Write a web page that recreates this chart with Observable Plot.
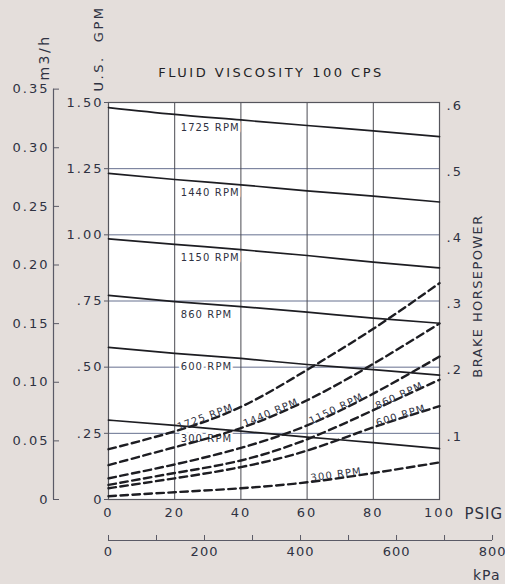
<!DOCTYPE html>
<html>
<head>
<meta charset="utf-8">
<script src="https://cdn.jsdelivr.net/npm/d3@7"></script>
<script src="https://cdn.jsdelivr.net/npm/@observablehq/plot@0.6"></script>
<style>
  html, body { margin: 0; padding: 0; background: #e4dedb; }
  #chart svg { display: block; }
  svg text { letter-spacing: 2px; }
  g[aria-description="rpm-solid"] text, g[aria-description="rpm-dashed"] text { letter-spacing: 1.1px; }
  g[aria-description="big"] text { letter-spacing: 2.5px; }
  g[aria-description="tight"] text { letter-spacing: 1px; }
  g[aria-description="side"] text { letter-spacing: 1.4px; }
</style>
</head>
<body>
<div id="chart"></div>
<script>
// ---- data ----
const psi = [0, 20, 40, 60, 80, 100];
const rpmSpeeds = [1725, 1440, 1150, 860, 600, 300];

// capacity (U.S. GPM) — solid lines
const gpm1725 = [1.481, 1.455, 1.434, 1.413, 1.393, 1.371];
const gpm1440 = [1.232, 1.209, 1.189, 1.166, 1.146, 1.124];
const gpm1150 = [0.985, 0.964, 0.944, 0.922, 0.897, 0.875];
const gpm860  = [0.771, 0.748, 0.729, 0.708, 0.685, 0.666];
const gpm600  = [0.575, 0.552, 0.533, 0.510, 0.491, 0.470];
const gpm300  = [0.300, 0.280, 0.258, 0.236, 0.215, 0.192];

// brake horsepower — dashed lines
const bhp1725 = [0.076, 0.103, 0.140, 0.196, 0.258, 0.327];
const bhp1440 = [0.052, 0.079, 0.108, 0.150, 0.205, 0.266];
const bhp1150 = [0.032, 0.053, 0.078, 0.112, 0.160, 0.216];
const bhp860  = [0.022, 0.040, 0.059, 0.091, 0.135, 0.181];
const bhp600  = [0.017, 0.032, 0.049, 0.074, 0.109, 0.141];
const bhp300  = [0.005, 0.011, 0.017, 0.026, 0.040, 0.056];

// where each curve carries its label (PSIG)
const gpmLabelAt = [20, 20, 20, 20, 20, 20];
const bhpLabelAt = [20, 40, 60, 80, 80, 60];

// ticks
const gpmTicks = [0, 0.25, 0.5, 0.75, 1.0, 1.25, 1.5];
const bhpTicks = [0.1, 0.2, 0.3, 0.4, 0.5, 0.6];
const m3hTicks = [0, 0.05, 0.10, 0.15, 0.20, 0.25, 0.30, 0.35];
const psiTicks = [0, 20, 40, 60, 80, 100];
const kpaTicks = [0, 100, 200, 300, 400, 500, 600, 700, 800];
const kpaLabels = [0, 200, 400, 600, 800];

// unit relations
const BHP_PER_GPM = 0.4;   // .6 BHP sits on 1.50 GPM
const GPM_PER_M3H = 4.43;
const KPA_PER_PSI = 6.895;

const gpmSeries = [gpm1725, gpm1440, gpm1150, gpm860, gpm600, gpm300];
const bhpSeries = [bhp1725, bhp1440, bhp1150, bhp860, bhp600, bhp300];

const flowRows = rpmSpeeds.flatMap((rpm, i) => psi.map((p, j) => ({rpm, psi: p, gpm: gpmSeries[i][j]})));
const bhpRows = rpmSpeeds.flatMap((rpm, i) => psi.map((p, j) => ({rpm, psi: p, bhp: bhpSeries[i][j]})));

// ---- layout ----
const W = 505, H = 584, ML = 108, MR = 66, MT = 102, MB = 85;
const pxPerPsi = (W - ML - MR) / 100;
const pxPerGpm = (H - MT - MB) / 1.5;

const flowLabels = rpmSpeeds.map((rpm, i) => {
  const j = psi.indexOf(gpmLabelAt[i]);
  return {rpm, psi: psi[j], gpm: gpmSeries[i][j]};
});
const bhpLabels = rpmSpeeds.map((rpm, i) => {
  const j = psi.indexOf(bhpLabelAt[i]);
  const s = bhpSeries[i];
  const dyPx = (s[j + 1] - s[j]) / BHP_PER_GPM * pxPerGpm;
  const dxPx = (psi[j + 1] - psi[j]) * pxPerPsi;
  return {rpm, psi: psi[j], bhp: s[j], angle: -Math.atan2(dyPx, dxPx) * 180 / Math.PI};
});

const gpmFmt = d => d === 0 ? "0" : d3.format(".2f")(d).replace(/^0/, "");
const bhpFmt = d => d3.format(".1f")(d * BHP_PER_GPM).replace(/^0/, "");
const m3Fmt = d => { const v = Math.round(d / GPM_PER_M3H * 100) / 100; return v === 0 ? "0" : d3.format(".2f")(v); };
const kpaFmt = d => { const v = Math.round(d * KPA_PER_PSI); return kpaLabels.includes(v) ? String(v) : ""; };

const ink = "#2f3242";
const tickInk = "#5a5a66";

const chart = Plot.plot({
  width: W, height: H,
  marginLeft: ML, marginRight: MR, marginTop: MT, marginBottom: MB,
  x: {domain: [0, 100]},
  y: {domain: [0, 1.5]},
  style: {background: "#e4dedb", fontFamily: "DejaVu Sans", fontSize: "13px", color: ink, overflow: "visible"},
  marks: [
    Plot.frame({fill: "white", stroke: null}),
    Plot.ruleY(gpmTicks.filter(d => d > 0 && d < 1.5), {stroke: "#66708f", strokeWidth: 1}),
    Plot.ruleX(psiTicks.filter(d => d > 0 && d < 100), {stroke: "#4b4b52", strokeWidth: 1}),
    Plot.frame({stroke: "#55555c", strokeWidth: 1.2}),

    // solid-line labels
    Plot.text(flowLabels, {x: "psi", y: "gpm", text: d => `${d.rpm} RPM`, textAnchor: "start", dx: 6, dy: 13,
      fontSize: 10, fill: ink, stroke: "white", strokeWidth: 5, paintOrder: "stroke", ariaDescription: "rpm-solid"}),

    // capacity curves
    Plot.line(flowRows, {x: "psi", y: "gpm", z: "rpm", stroke: "#1d1d22", strokeWidth: 1.7, curve: "monotone-x"}),

    // brake horsepower curves (right scale)
    Plot.line(bhpRows, {x: "psi", y: d => d.bhp / BHP_PER_GPM, z: "rpm", stroke: "#1d1d22", strokeWidth: 2.4,
      strokeDasharray: "7.5,4.5", curve: "natural"}),
    Plot.text(bhpLabels, {x: "psi", y: d => d.bhp / BHP_PER_GPM, text: d => `${d.rpm} RPM`, rotate: "angle",
      textAnchor: "start", lineAnchor: "bottom", dx: 4, dy: -1, fontSize: 10, fill: ink, ariaDescription: "rpm-dashed"}),

    // U.S. GPM axis
    Plot.axisY({ticks: gpmTicks, tickFormat: gpmFmt, tickSize: 4, tickPadding: 1, fontSize: 13, stroke: tickInk, fill: ink, label: null}),
    // m3/h axis
    Plot.axisY({ticks: m3hTicks.map(m => m * GPM_PER_M3H), tickFormat: m3Fmt, tickSize: 6, tickPadding: 4, dx: -49,
      fontSize: 13, stroke: tickInk, fill: ink, label: null}),
    Plot.ruleX([0], {y1: 0, y2: m3hTicks[m3hTicks.length - 1] * GPM_PER_M3H, dx: -55, stroke: tickInk, strokeWidth: 1.2}),
    // BHP axis
    Plot.axisY({anchor: "right", ticks: bhpTicks.map(b => b / BHP_PER_GPM), tickFormat: bhpFmt, tickSize: 0, tickPadding: 7,
      dy: 3, fontSize: 13, fill: ink, label: null}),
    // PSIG axis
    Plot.axisX({ticks: psiTicks, tickSize: 0, tickPadding: 8, fontSize: 13, fill: ink, label: null}),
    // kPa axis
    Plot.axisX({ticks: kpaTicks.map(k => k / KPA_PER_PSI), tickFormat: kpaFmt, tickSize: 5, tickPadding: 6, dy: 36,
      fontSize: 13, stroke: tickInk, fill: ink, label: null, ariaDescription: "tight"}),
    Plot.ruleY([0], {x1: 0, x2: kpaTicks[kpaTicks.length - 1] / KPA_PER_PSI, dy: 41, stroke: tickInk, strokeWidth: 1.2}),

    // titles
    Plot.text(["FLUID VISCOSITY 100 CPS"], {frameAnchor: "top", textAnchor: "middle", lineAnchor: "middle", dx: -3, dy: -30,
      fontSize: 13, fill: "#1f1f26", ariaDescription: "big"}),
    Plot.text(["U.S.  GPM"], {frameAnchor: "top-left", textAnchor: "middle", lineAnchor: "middle", rotate: -90, dx: -10, dy: -54,
      fontSize: 13, fill: ink, ariaDescription: "big"}),
    Plot.text(["m3/h"], {frameAnchor: "top-left", textAnchor: "middle", lineAnchor: "middle", rotate: -90, dx: -64, dy: -45,
      fontSize: 14, fill: ink, ariaDescription: "big"}),
    Plot.text(["BRAKE HORSEPOWER"], {frameAnchor: "right", textAnchor: "middle", lineAnchor: "middle", rotate: -90, dx: 38, dy: -5,
      fontSize: 13, fill: ink, ariaDescription: "side"}),
    Plot.text(["PSIG"], {frameAnchor: "bottom-right", textAnchor: "start", lineAnchor: "middle", dx: 25, dy: 15,
      fontSize: 15, fill: ink, ariaDescription: "tight"}),
    Plot.text(["kPa"], {frameAnchor: "bottom-right", textAnchor: "end", lineAnchor: "middle", dx: 61, dy: 76,
      fontSize: 14, fill: ink, ariaDescription: "tight"})
  ]
});
document.getElementById("chart").appendChild(chart);
</script>
</body>
</html>
